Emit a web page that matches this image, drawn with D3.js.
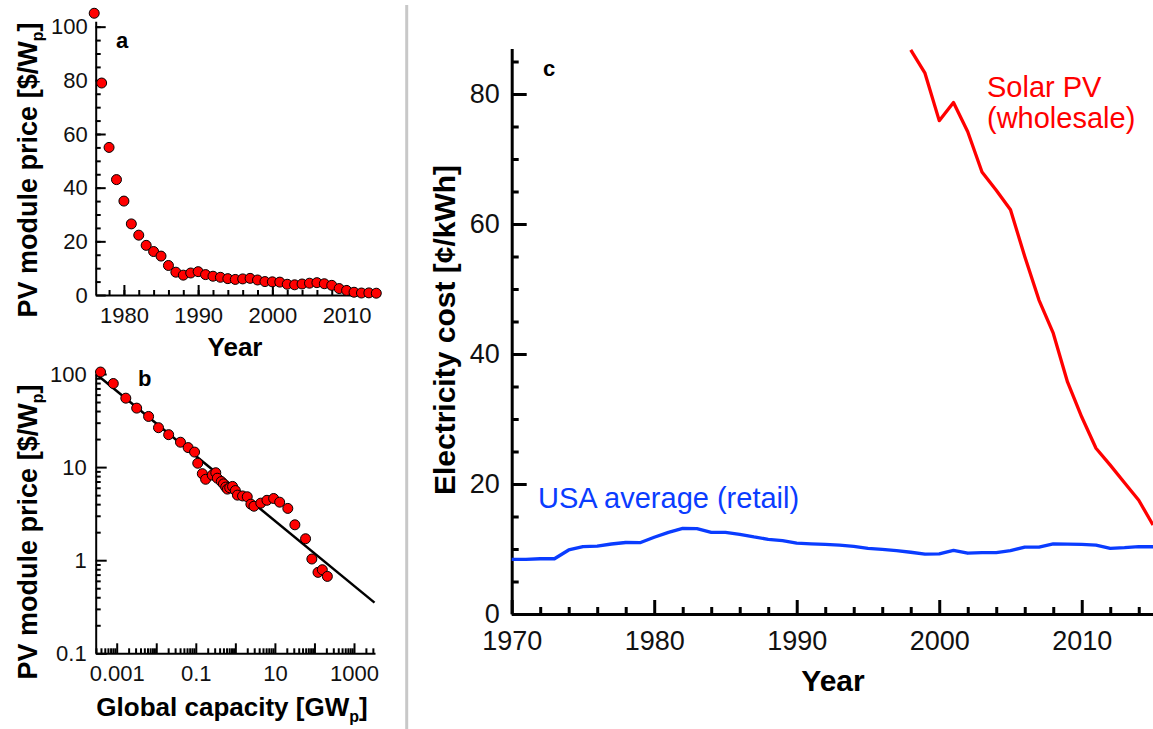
<!DOCTYPE html>
<html>
<head>
<meta charset="utf-8">
<script src="https://cdn.jsdelivr.net/npm/d3@7"></script>
<style>
  body { margin: 0; background: #fff; }
  svg { display: block; font-family: "Liberation Sans", Arial, sans-serif; }
</style>
</head>
<body>
<svg id="chart" width="1153" height="729"></svg>
<script>
// PV module price by year (panels a and b)
let pvYears = [1976, 1977, 1978, 1979, 1980, 1981, 1982, 1983, 1984, 1985,
  1986, 1987, 1988, 1989, 1990, 1991, 1992, 1993, 1994, 1995,
  1996, 1997, 1998, 1999, 2000, 2001, 2002, 2003, 2004, 2005,
  2006, 2007, 2008, 2009, 2010, 2011, 2012, 2013, 2014]
let pvPrice = [105, 79, 55, 43, 35, 26.5, 22.3, 18.5, 16.2, 14.5,
  11, 8.5, 7.4, 8.2, 8.7, 7.6, 7.0, 6.6, 6.1, 5.8,
  6.0, 6.2, 5.6, 5.0, 4.9, 4.8, 4.0, 3.8, 4.1, 4.4,
  4.6, 4.2, 3.6, 2.4, 1.7, 1.03, 0.74, 0.79, 0.67]
// cumulative global capacity in GWp
let pvCapacity = [0.00039, 0.00082, 0.0017, 0.0032, 0.0064, 0.0114, 0.0206, 0.041, 0.064, 0.093,
  0.112, 0.146, 0.177, 0.26, 0.32, 0.35, 0.44, 0.5, 0.57, 0.63,
  0.72, 0.85, 1.0, 1.13, 1.52, 2.0, 2.47, 2.95, 4.4, 6.3,
  9.3, 13.2, 21.2, 32, 59.6, 86, 123, 158, 212]

// learning curve fit (panel b)
let fitCapacity = [0.0003, 3300]
let fitPrice = [100, 0.35]

// electricity cost (panel c), cents per kWh
let usaYears = [1970, 1971, 1972, 1973, 1974, 1975, 1976, 1977, 1978, 1979,
  1980, 1981, 1982, 1983, 1984, 1985, 1986, 1987, 1988, 1989,
  1990, 1991, 1992, 1993, 1994, 1995, 1996, 1997, 1998, 1999,
  2000, 2001, 2002, 2003, 2004, 2005, 2006, 2007, 2008, 2009,
  2010, 2011, 2012, 2013, 2014, 2015]
let usaRetail = [8.4, 8.4, 8.5, 8.5, 9.85, 10.36, 10.45, 10.77, 11.0, 10.97,
  11.8, 12.56, 13.18, 13.13, 12.56, 12.56, 12.26, 11.85, 11.49, 11.28,
  10.9, 10.8, 10.7, 10.6, 10.4, 10.1, 9.95, 9.75, 9.5, 9.2,
  9.25, 9.8, 9.35, 9.45, 9.45, 9.75, 10.3, 10.3, 10.8, 10.75,
  10.7, 10.6, 10.1, 10.2, 10.35, 10.35]
let solarYears = [1998, 1999, 2000, 2001, 2002, 2003, 2004, 2005, 2006,
  2007, 2008, 2009, 2010, 2011, 2012, 2013, 2014, 2015]
let solarWholesale = [86.8, 83.2, 75.9, 78.7, 74.2, 68.0, 65.2, 62.2, 55,
  48.3, 43.2, 35.7, 30.3, 25.5, 22.9, 20.2, 17.5, 13.7]

let svg = d3.select('#chart')

function styleAxis(g, size, stroke) {
  g.attr('font-family', null).attr('font-size', size)
  g.selectAll('line').attr('stroke', '#000').attr('stroke-width', stroke)
  g.selectAll('.domain').attr('stroke', '#000').attr('stroke-width', stroke)
  g.selectAll('text').attr('fill', '#111')
}

// rotated title with a subscript p: "PV module price [$/Wp]"
function priceTitle(x, y) {
  let t = svg.append('text')
    .attr('transform', `translate(${x},${y}) rotate(-90)`)
    .attr('text-anchor', 'middle')
    .attr('font-size', 27)
    .attr('font-weight', 'bold')
  t.append('tspan').text('PV module price [$/W')
  t.append('tspan').attr('font-size', 16).attr('dy', 6).text('p')
  t.append('tspan').attr('dy', -6).text(']')
}

// separator
svg.append('line')
  .attr('x1', 406.7).attr('x2', 406.7)
  .attr('y1', 5).attr('y2', 729)
  .attr('stroke', '#c8c8c8')
  .attr('stroke-width', 3)

// ---------- panel a ----------
let xA = d3.scaleLinear().domain([1976.2, 2014.5]).range([95.7, 380])
let yA = d3.scaleLinear().domain([0, 102]).range([295, 21.3])

let aMinorX = svg.append('g').attr('transform', 'translate(0,295)')
  .call(d3.axisBottom(xA).tickValues(d3.range(1978, 2015, 2)).tickSize(-5).tickFormat(''))
aMinorX.select('.domain').remove()
styleAxis(aMinorX, 22, 2)

let aMinorY = svg.append('g').attr('transform', 'translate(95.7,0)')
  .call(d3.axisLeft(yA).tickValues(d3.range(5, 101, 5)).tickSize(-5).tickFormat(''))
aMinorY.select('.domain').remove()
styleAxis(aMinorY, 22, 2)

let aX = svg.append('g').attr('transform', 'translate(0,295)')
  .call(d3.axisBottom(xA).tickValues([1980, 1990, 2000, 2010])
    .tickSize(-10).tickSizeOuter(0).tickPadding(12).tickFormat(d3.format('d')))
styleAxis(aX, 22, 2)

let aY = svg.append('g').attr('transform', 'translate(95.7,0)')
  .call(d3.axisLeft(yA).tickValues([0, 20, 40, 60, 80, 100])
    .tickSize(-10).tickSizeOuter(0).tickPadding(8))
styleAxis(aY, 22, 2)

svg.append('g')
  .selectAll('circle')
  .data(pvYears)
  .enter()
  .append('circle')
  .attr('cx', d => xA(d))
  .attr('cy', (d, i) => yA(pvPrice[i]))
  .attr('r', 5)
  .attr('fill', '#ff0000')
  .attr('stroke', '#000')
  .attr('stroke-width', 1)

svg.append('text')
  .attr('x', 116).attr('y', 48)
  .attr('font-size', 22).attr('font-weight', 'bold')
  .text('a')

svg.append('text')
  .attr('x', 235).attr('y', 356)
  .attr('text-anchor', 'middle')
  .attr('font-size', 26).attr('font-weight', 'bold')
  .text('Year')

priceTitle(37, 170)

// ---------- panel b ----------
let xB = d3.scaleLog().domain([Math.pow(10, -3.531), Math.pow(10, 3.531)]).range([95.7, 375])
let yB = d3.scaleLog().domain([0.1, 100]).range([653.3, 374])

let decadesX = [0.001, 0.01, 0.1, 1, 10, 100, 1000]
let minorX = []
;[0.0001, 0.001, 0.01, 0.1, 1, 10, 100, 1000].forEach(p => {
  for (let m = 2; m <= 9; m++) {
    let v = m * p
    if (v >= xB.domain()[0] && v <= xB.domain()[1]) minorX.push(v)
  }
})
let minorY = []
;[0.1, 1, 10].forEach(p => {
  for (let m = 2; m <= 9; m++) minorY.push(m * p)
})

let bMinorX = svg.append('g').attr('transform', 'translate(0,653.3)')
  .call(d3.axisBottom(xB).tickValues(minorX).tickSize(-5).tickFormat(''))
bMinorX.select('.domain').remove()
styleAxis(bMinorX, 22, 2)

let bMinorY = svg.append('g').attr('transform', 'translate(95.7,0)')
  .call(d3.axisLeft(yB).tickValues(minorY).tickSize(-5).tickFormat(''))
bMinorY.select('.domain').remove()
styleAxis(bMinorY, 22, 2)

let labelledX = [0.001, 0.1, 10, 1000]
let bX = svg.append('g').attr('transform', 'translate(0,653.3)')
  .call(d3.axisBottom(xB).tickValues(decadesX)
    .tickSize(-10).tickSizeOuter(0).tickPadding(12)
    .tickFormat(d => labelledX.includes(d) ? String(d) : ''))
styleAxis(bX, 22, 2)

let bY = svg.append('g').attr('transform', 'translate(95.7,0)')
  .call(d3.axisLeft(yB).tickValues([0.1, 1, 10, 100])
    .tickSize(-11).tickSizeOuter(0).tickPadding(9)
    .tickFormat(d => String(d)))
styleAxis(bY, 22, 2)

let fitLine = d3.line()
  .x(d => xB(d[0]))
  .y(d => yB(d[1]))

svg.append('path')
  .datum(d3.zip(fitCapacity, fitPrice))
  .attr('d', fitLine)
  .attr('fill', 'none')
  .attr('stroke', '#000')
  .attr('stroke-width', 2.5)

svg.append('g')
  .selectAll('circle')
  .data(pvCapacity)
  .enter()
  .append('circle')
  .attr('cx', d => xB(d))
  .attr('cy', (d, i) => yB(pvPrice[i]))
  .attr('r', 5)
  .attr('fill', '#ff0000')
  .attr('stroke', '#000')
  .attr('stroke-width', 1)

svg.append('text')
  .attr('x', 138).attr('y', 386)
  .attr('font-size', 22).attr('font-weight', 'bold')
  .text('b')

let bTitle = svg.append('text')
  .attr('x', 232).attr('y', 716)
  .attr('text-anchor', 'middle')
  .attr('font-size', 26).attr('font-weight', 'bold')
bTitle.append('tspan').text('Global capacity [GW')
bTitle.append('tspan').attr('font-size', 16).attr('dy', 6).text('p')
bTitle.append('tspan').attr('dy', -6).text(']')

priceTitle(37, 532)

// ---------- panel c ----------
let xC = d3.scaleLinear().domain([1970, 2015]).range([511.7, 1153])
let yC = d3.scaleLinear().domain([0, 87]).range([614, 48.5])

let cMinorX = svg.append('g').attr('transform', 'translate(0,614)')
  .call(d3.axisBottom(xC).tickValues(d3.range(1972, 2015, 2).filter(d => d % 10 !== 0))
    .tickSize(-7).tickFormat(''))
cMinorX.select('.domain').remove()
styleAxis(cMinorX, 27, 3)

let cMinorY = svg.append('g').attr('transform', 'translate(511.7,0)')
  .call(d3.axisLeft(yC).tickValues([5, 10, 15, 25, 30, 35, 45, 50, 55, 65, 70, 75, 85])
    .tickSize(-7).tickFormat(''))
cMinorY.select('.domain').remove()
styleAxis(cMinorY, 27, 3)

let cX = svg.append('g').attr('transform', 'translate(0,614)')
  .call(d3.axisBottom(xC).tickValues([1970, 1980, 1990, 2000, 2010])
    .tickSize(-14).tickSizeOuter(0).tickPadding(17).tickFormat(d3.format('d')))
styleAxis(cX, 27, 3)

let cY = svg.append('g').attr('transform', 'translate(511.7,0)')
  .call(d3.axisLeft(yC).tickValues([0, 20, 40, 60, 80])
    .tickSize(-15).tickSizeOuter(0).tickPadding(12))
styleAxis(cY, 27, 3)

let line = d3.line()
  .x(d => xC(d[0]))
  .y(d => yC(d[1]))

svg.append('path')
  .datum(d3.zip(usaYears, usaRetail))
  .attr('d', line)
  .attr('fill', 'none')
  .attr('stroke', '#0a3cff')
  .attr('stroke-width', 3.3)
  .attr('stroke-linejoin', 'round')

svg.append('path')
  .datum(d3.zip(solarYears, solarWholesale))
  .attr('d', line)
  .attr('fill', 'none')
  .attr('stroke', '#ff0000')
  .attr('stroke-width', 3.3)
  .attr('stroke-linejoin', 'round')

svg.append('text')
  .attr('x', 543).attr('y', 76)
  .attr('font-size', 22).attr('font-weight', 'bold')
  .text('c')

svg.append('text')
  .attr('x', 987).attr('y', 97)
  .attr('font-size', 29).attr('fill', '#ff0000')
  .text('Solar PV')
svg.append('text')
  .attr('x', 987).attr('y', 128)
  .attr('font-size', 29).attr('fill', '#ff0000')
  .text('(wholesale)')

svg.append('text')
  .attr('x', 538).attr('y', 508)
  .attr('font-size', 29).attr('fill', '#0a3cff')
  .text('USA average (retail)')

svg.append('text')
  .attr('x', 833).attr('y', 691)
  .attr('text-anchor', 'middle')
  .attr('font-size', 30).attr('font-weight', 'bold')
  .text('Year')

svg.append('text')
  .attr('transform', 'translate(455,330) rotate(-90)')
  .attr('text-anchor', 'middle')
  .attr('font-size', 30).attr('font-weight', 'bold')
  .text('Electricity cost [¢/kWh]')
</script>
</body>
</html>
